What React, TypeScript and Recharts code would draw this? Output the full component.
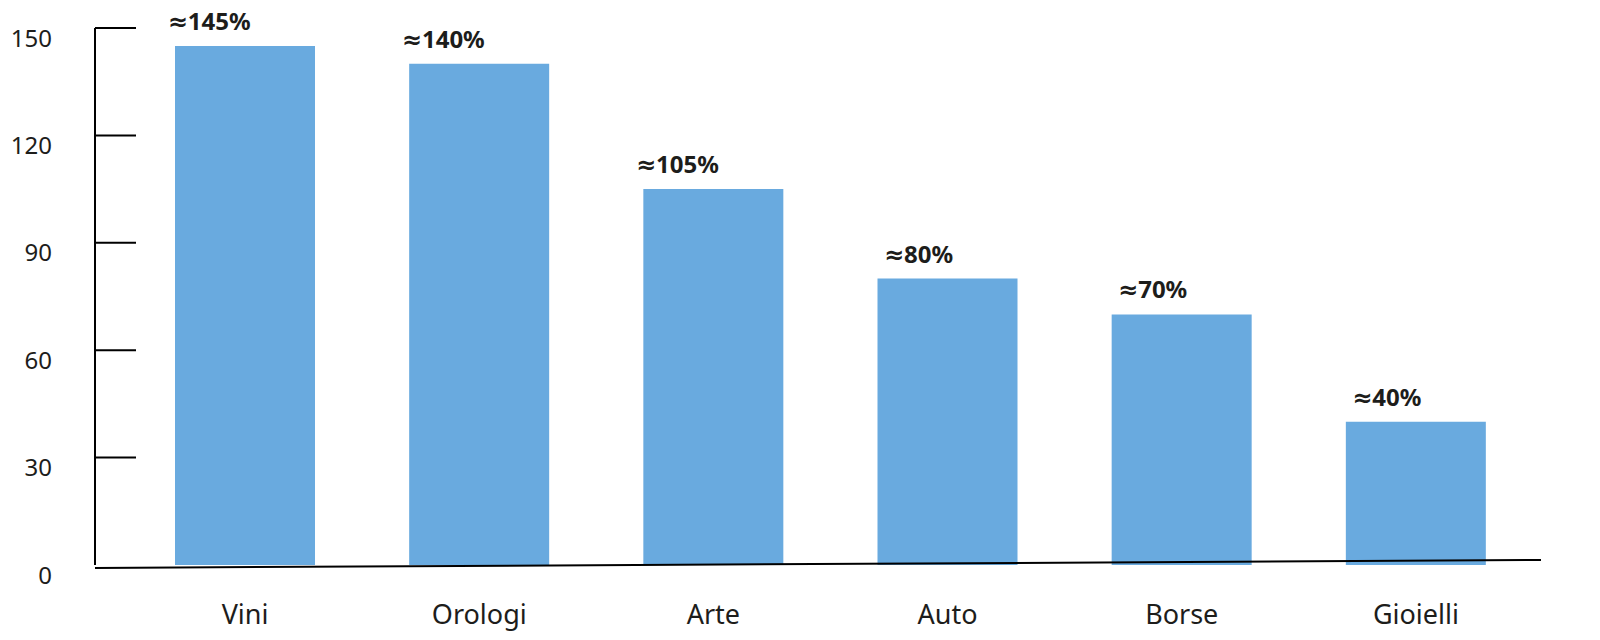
import React from "react";
import { BarChart, Bar, XAxis, YAxis, LabelList, ReferenceLine } from "recharts";

const categories = ["Vini", "Orologi", "Arte", "Auto", "Borse", "Gioielli"];
const values = [145, 140, 105, 80, 70, 40];
const valueLabels = ["≈145%", "≈140%", "≈105%", "≈80%", "≈70%", "≈40%"];
const yTicks = [0, 30, 60, 90, 120, 150];

const data = categories.map((c, i) => ({ name: c, value: values[i], label: valueLabels[i] }));

const FONT = "'Noto Sans', 'DejaVu Sans', sans-serif";
const TEXT = "#1d1d1b";
const BAR = "#69aadf";

const YTick = (props: any) => {
  const { x, y, payload } = props;
  return (
    <g>
      {payload.value !== 0 && <line x1={x} y1={y} x2={x + 41} y2={y} stroke="#000" strokeWidth={2} />}
      <text x={x - 43} y={y + 10} dy="0.355em" textAnchor="end" fontSize={24} fill={TEXT} fontFamily={FONT}>
        {payload.value}
      </text>
    </g>
  );
};

const ValueLabel = (props: any) => {
  const { x, y, width, value } = props;
  return (
    <text x={x + width * 0.54} y={y - 16} textAnchor="end" fontSize={24} fontWeight="bold" fill={TEXT} fontFamily={FONT}>
      {value}
    </text>
  );
};

export default function App() {
  return (
    <div style={{ position: "absolute", left: 0, top: 0, background: "#fff" }}>
      <BarChart width={1600} height={640} data={data} margin={{ top: 28, right: 59, bottom: 0, left: 0 }}>
        <YAxis
          width={95}
          domain={[0, 150]}
          ticks={yTicks}
          interval={0}
          tickLine={false}
          tickSize={0}
          tickMargin={0}
          axisLine={{ stroke: "#000", strokeWidth: 2 }}
          tick={<YTick />}
        />
        <XAxis
          dataKey="name"
          height={75}
          padding={{ left: 33, right: 8 }}
          axisLine={false}
          tickLine={false}
          tickSize={6}
          tickMargin={34}
          tick={{ fontSize: 27, fill: TEXT, fontFamily: FONT }}
          interval={0}
        />
        <Bar dataKey="value" fill={BAR} barSize={140} isAnimationActive={false}>
          <LabelList dataKey="label" content={<ValueLabel />} />
        </Bar>
        <ReferenceLine
          y={0}
          ifOverflow="visible"
          shape={(p: any) => {
            const xa = Math.min(p.x1, p.x2);
            const xb = Math.max(p.x1, p.x2);
            return <line x1={xa} y1={p.y1 + 3} x2={xb} y2={p.y1 - 5} stroke="#000" strokeWidth={2} />;
          }}
        />
      </BarChart>
    </div>
  );
}
